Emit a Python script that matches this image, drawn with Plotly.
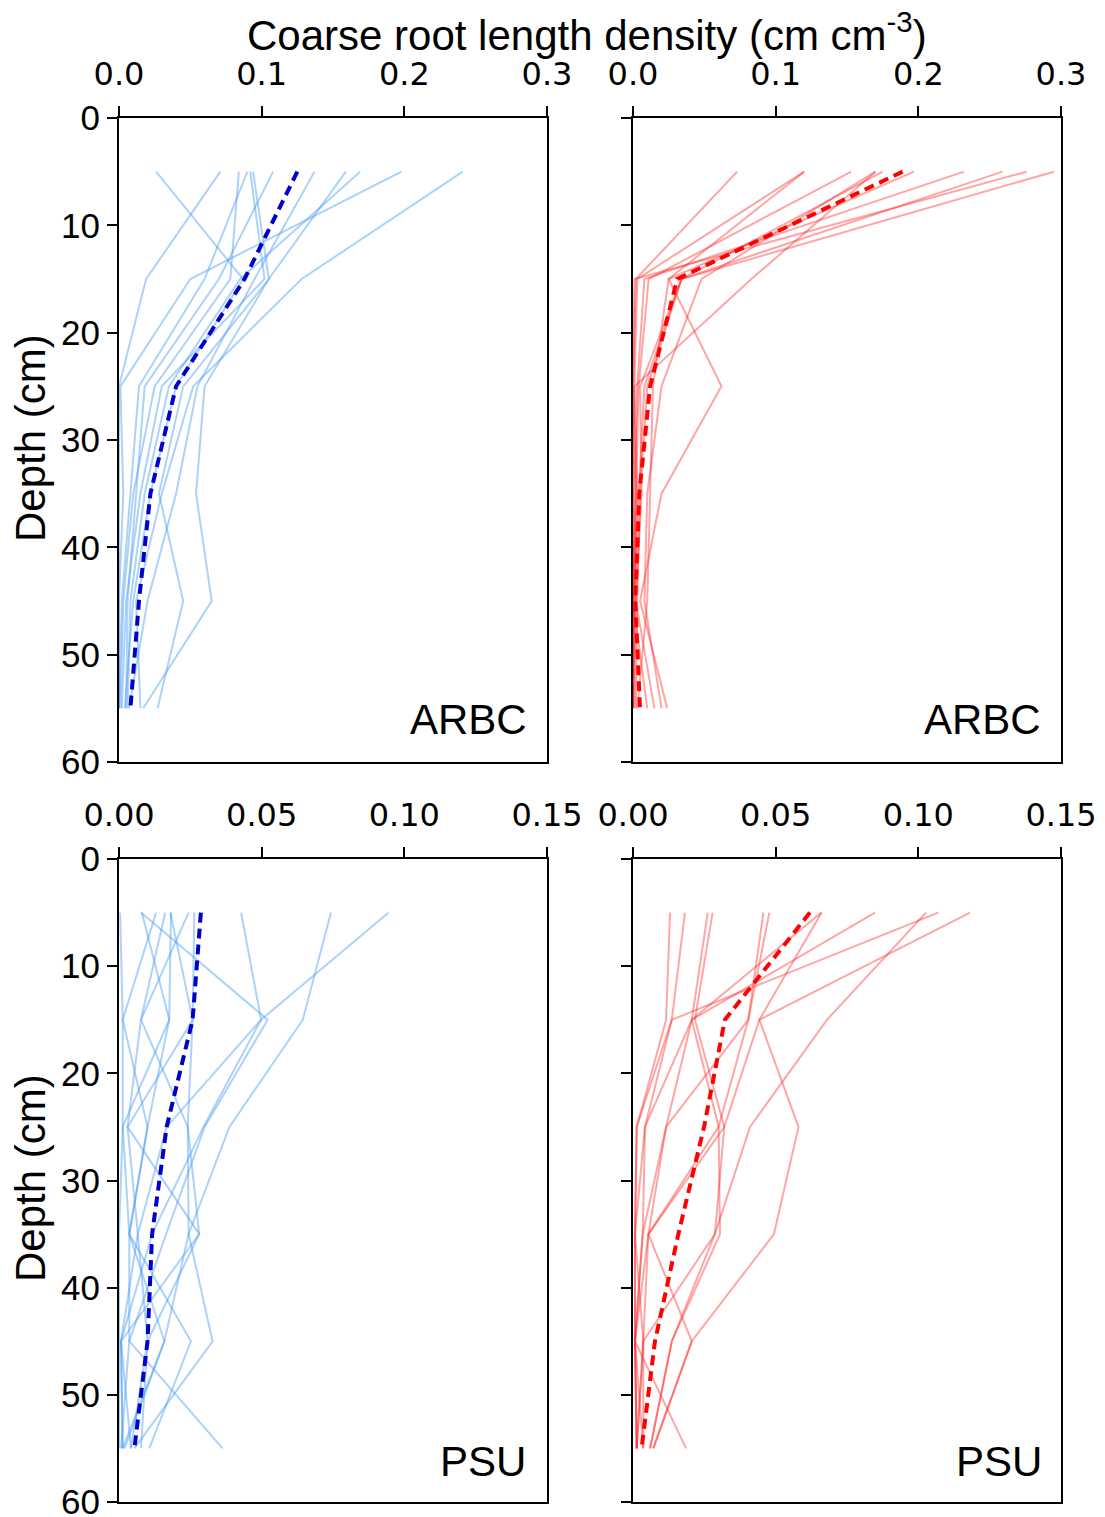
import plotly.graph_objects as go

# ---------------- data ----------------
depths = [5, 15, 25, 35, 45, 55]

arbc_blue_profiles = [
    [0.026, 0.087, 0.040, 0.022, 0.010, 0.004],
    [0.071, 0.019, 0.000, 0.000, 0.000, 0.000],
    [0.198, 0.050, 0.001, 0.003, 0.000, 0.000],
    [0.084, 0.078, 0.025, 0.010, 0.003, 0.001],
    [0.092, 0.102, 0.030, 0.015, 0.005, 0.002],
    [0.094, 0.105, 0.045, 0.028, 0.045, 0.027],
    [0.108, 0.070, 0.018, 0.012, 0.006, 0.005],
    [0.137, 0.095, 0.055, 0.040, 0.020, 0.007],
    [0.159, 0.105, 0.060, 0.054, 0.065, 0.017],
    [0.169, 0.085, 0.035, 0.018, 0.008, 0.006],
    [0.241, 0.128, 0.052, 0.030, 0.012, 0.015],
    [0.090, 0.060, 0.014, 0.008, 0.002, 0.000],
]
arbc_blue_mean = [0.125, 0.088, 0.040, 0.022, 0.014, 0.008]

arbc_red_profiles = [
    [0.073, 0.002, 0.000, 0.000, 0.000, 0.000],
    [0.120, 0.003, 0.001, 0.000, 0.000, 0.000],
    [0.120, 0.025, 0.062, 0.020, 0.005, 0.024],
    [0.153, 0.011, 0.004, 0.002, 0.000, 0.000],
    [0.170, 0.083, 0.001, 0.003, 0.001, 0.000],
    [0.170, 0.048, 0.020, 0.010, 0.008, 0.020],
    [0.175, 0.034, 0.010, 0.005, 0.003, 0.002],
    [0.197, 0.025, 0.014, 0.012, 0.010, 0.003],
    [0.232, 0.008, 0.003, 0.001, 0.002, 0.015],
    [0.259, 0.034, 0.008, 0.004, 0.001, 0.001],
    [0.276, 0.001, 0.000, 0.002, 0.000, 0.010],
    [0.295, 0.034, 0.005, 0.006, 0.002, 0.000],
]
arbc_red_mean = [0.189, 0.031, 0.012, 0.0044, 0.0016, 0.0049]

psu_blue_profiles = [
    [0.0004, 0.0013, 0.0013, 0.0000, 0.0000, 0.0000],
    [0.0077, 0.0521, 0.0300, 0.0165, 0.0036, 0.0007],
    [0.0130, 0.0013, 0.0100, 0.0036, 0.0159, 0.0013],
    [0.0162, 0.0077, 0.0030, 0.0066, 0.0007, 0.0042],
    [0.0182, 0.0176, 0.0013, 0.0036, 0.0252, 0.0106],
    [0.0244, 0.0077, 0.0241, 0.0281, 0.0100, 0.0077],
    [0.0264, 0.0258, 0.0241, 0.0244, 0.0328, 0.0054],
    [0.0428, 0.0498, 0.0296, 0.0116, 0.0007, 0.0013],
    [0.0743, 0.0644, 0.0387, 0.0244, 0.0159, 0.0020],
    [0.0945, 0.0498, 0.0167, 0.0066, 0.0100, 0.0042],
    [0.0080, 0.0176, 0.0100, 0.0036, 0.0036, 0.0363],
    [0.0180, 0.0258, 0.0030, 0.0281, 0.0007, 0.0013],
]
psu_blue_mean = [0.0287, 0.0258, 0.0167, 0.0116, 0.0100, 0.0054]

psu_red_profiles = [
    [0.0130, 0.0116, 0.0013, 0.0007, 0.0036, 0.0013],
    [0.0182, 0.0136, 0.0042, 0.0034, 0.0007, 0.0186],
    [0.0262, 0.0206, 0.0300, 0.0054, 0.0007, 0.0013],
    [0.0279, 0.0217, 0.0320, 0.0287, 0.0036, 0.0036],
    [0.0457, 0.0404, 0.0116, 0.0034, 0.0007, 0.0013],
    [0.0478, 0.0404, 0.0300, 0.0305, 0.0136, 0.0060],
    [0.0661, 0.0443, 0.0320, 0.0054, 0.0036, 0.0013],
    [0.0660, 0.0206, 0.0116, 0.0054, 0.0206, 0.0071],
    [0.0848, 0.0206, 0.0042, 0.0007, 0.0007, 0.0013],
    [0.1027, 0.0680, 0.0410, 0.0287, 0.0136, 0.0060],
    [0.1070, 0.0136, 0.0013, 0.0007, 0.0007, 0.0036],
    [0.1181, 0.0443, 0.0580, 0.0494, 0.0206, 0.0071],
]
psu_red_mean = [0.0620, 0.0322, 0.0249, 0.0159, 0.0077, 0.0030]

top_ticks = [0.0, 0.1, 0.2, 0.3]
bottom_ticks = [0.00, 0.05, 0.10, 0.15]
depth_ticks = [0, 10, 20, 30, 40, 50, 60]
panel_labels = ["ARBC", "ARBC", "PSU", "PSU"]

# ---------------- figure ----------------
W, H = 1105, 1517
BLUE_LIGHT = "rgba(70,155,245,0.45)"
BLUE_MEAN = "#0000C8"
RED_LIGHT = "rgba(255,40,40,0.42)"
RED_MEAN = "#FF0000"

fig = go.Figure()

panels = [
    (arbc_blue_profiles, arbc_blue_mean, BLUE_LIGHT, BLUE_MEAN, "x", "y"),
    (arbc_red_profiles, arbc_red_mean, RED_LIGHT, RED_MEAN, "x2", "y2"),
    (psu_blue_profiles, psu_blue_mean, BLUE_LIGHT, BLUE_MEAN, "x3", "y3"),
    (psu_red_profiles, psu_red_mean, RED_LIGHT, RED_MEAN, "x4", "y4"),
]

for profiles, mean, lc, mc, xa, ya in panels:
    for prof in profiles:
        fig.add_trace(go.Scatter(x=prof, y=depths, mode="lines",
                                 line=dict(color=lc, width=2),
                                 xaxis=xa, yaxis=ya, showlegend=False,
                                 hoverinfo="skip"))
    fig.add_trace(go.Scatter(x=mean, y=depths, mode="lines",
                             line=dict(color=mc, width=4, dash="10px,6px"),
                             xaxis=xa, yaxis=ya, showlegend=False))

def px_x(a, b):
    return [a / W, b / W]

def px_y(top, bottom):
    return [1 - bottom / H, 1 - top / H]

xdom_left = px_x(119, 547)
xdom_right = px_x(633, 1061)
ydom_top = px_y(118, 762)
ydom_bot = px_y(859, 1502)

tickfont_x = dict(family="DejaVu Sans, Verdana", size=32, color="black")
tickfont_y = dict(family="Liberation Sans, Arial", size=35, color="black")

def xaxis(dom, anchor, rng, ticks, fmt):
    return dict(domain=dom, anchor=anchor, range=rng, side="top",
                tickvals=ticks, ticktext=[format(t, fmt) for t in ticks],
                ticks="outside", ticklen=10, tickwidth=2, tickcolor="black",
                ticklabelstandoff=8, ticklabeloverflow="allow",
                showline=True, linecolor="black", linewidth=2, mirror=True,
                showgrid=False, zeroline=False, tickfont=tickfont_x,
                automargin=False)

def yaxis(dom, anchor, labels):
    return dict(domain=dom, anchor=anchor, range=[60, 0],
                tickvals=depth_ticks, showticklabels=labels,
                ticks="outside", ticklen=10, tickwidth=2, tickcolor="black",
                ticklabeloverflow="allow",
                showline=True, linecolor="black", linewidth=2, mirror=True,
                showgrid=False, zeroline=False, tickfont=tickfont_y,
                automargin=False)

fig.update_layout(
    width=W, height=H,
    margin=dict(l=0, r=0, t=0, b=0),
    paper_bgcolor="white", plot_bgcolor="white",
    xaxis=xaxis(xdom_left, "y", [0, 0.3], top_ticks, ".1f"),
    yaxis=yaxis(ydom_top, "x", True),
    xaxis2=xaxis(xdom_right, "y2", [0, 0.3], top_ticks, ".1f"),
    yaxis2=yaxis(ydom_top, "x2", False),
    xaxis3=xaxis(xdom_left, "y3", [0, 0.15], bottom_ticks, ".2f"),
    yaxis3=yaxis(ydom_bot, "x3", True),
    xaxis4=xaxis(xdom_right, "y4", [0, 0.15], bottom_ticks, ".2f"),
    yaxis4=yaxis(ydom_bot, "x4", False),
)

title_font = dict(family="Liberation Sans, Arial", size=42, color="black")
annotations = [
    dict(text="Coarse root length density (cm cm<sup>-3</sup>)",
         x=587 / W, y=1 - 32 / H, xref="paper", yref="paper",
         xanchor="center", yanchor="middle", showarrow=False, font=title_font),
    dict(text="Depth (cm)", x=30 / W, y=1 - 438 / H, xref="paper", yref="paper",
         xanchor="center", yanchor="middle", textangle=-90, showarrow=False,
         font=title_font),
    dict(text="Depth (cm)", x=30 / W, y=1 - 1178 / H, xref="paper", yref="paper",
         xanchor="center", yanchor="middle", textangle=-90, showarrow=False,
         font=title_font),
]
label_pos = [(529, 719), (1043, 719), (528, 1461), (1044, 1461)]
for lab, (lx, ly) in zip(panel_labels, label_pos):
    annotations.append(dict(text=lab, x=lx / W, y=1 - ly / H, xref="paper",
                            yref="paper", xanchor="right", yanchor="middle",
                            showarrow=False, font=title_font))
fig.update_layout(annotations=annotations)

fig.write_html("out.html",
               config={"displayModeBar": False},
               post_script="document.body.style.margin='0';"
                           "document.body.style.overflow='hidden';")
